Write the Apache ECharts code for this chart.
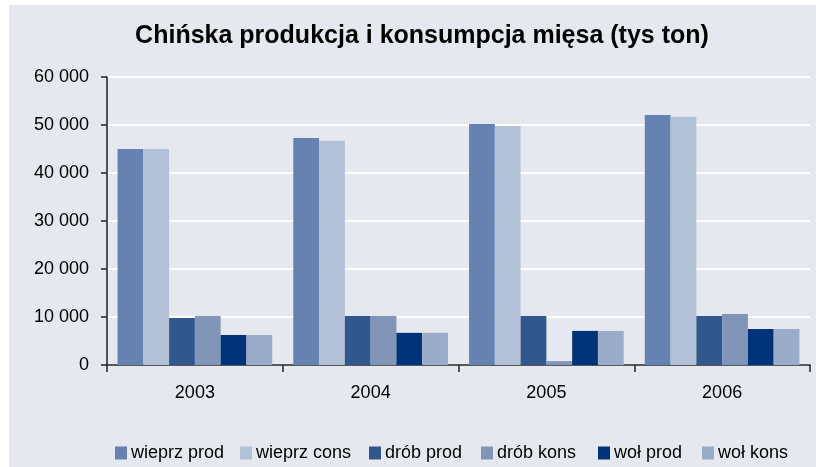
<!DOCTYPE html>
<html><head><meta charset="utf-8">
<script src="https://cdn.jsdelivr.net/npm/echarts@6/dist/echarts.min.js"></script>
<style>html,body{margin:0;padding:0;background:#fff}#c{width:816px;height:467px}</style>
</head><body><div id="c"></div>
<script>
const titleText = 'Chińska produkcja i konsumpcja mięsa (tys ton)';
const categories = ['2003', '2004', '2005', '2006'];
const seriesNames = ['wieprz prod', 'wieprz cons', 'drób prod', 'drób kons', 'woł prod', 'woł kons'];
const wieprzProd = [45000, 47300, 50200, 52100];
const wieprzCons = [45000, 46700, 49800, 51700];
const drobProd = [9800, 10200, 10200, 10200];
const drobKons = [10200, 10200, 800, 10600];
const wolProd = [6250, 6700, 7100, 7500];
const wolKons = [6250, 6700, 7100, 7500];
const yTicks = [0, 10000, 20000, 30000, 40000, 50000, 60000];

const colors = ['#6682B0', '#B3C1D7', '#32578E', '#8095B8', '#003377', '#9AACC8'];
const allData = [wieprzProd, wieprzCons, drobProd, drobKons, wolProd, wolKons];
const legendLeft = [115, 240, 369, 481, 598, 702];
const font = '"Liberation Sans", Arial, sans-serif';

const chart = echarts.init(document.getElementById('c'), null, {renderer: 'canvas'});
chart.setOption({
  animation: false,
  color: colors,
  graphic: [{type: 'rect', z: -10, silent: true, shape: {x: 9, y: 5, width: 816, height: 470}, style: {fill: '#E5E8EE'}}],
  title: {
    text: titleText, left: 417, top: 19, textAlign: 'center',
    textStyle: {fontFamily: font, fontWeight: 'bold', fontSize: 25, color: '#000'}
  },
  legend: seriesNames.map((n, i) => ({
    left: legendLeft[i] - 5, top: 439, itemWidth: 12, itemHeight: 13, itemGap: 0,
    icon: 'rect', selectedMode: false,
    textStyle: {fontFamily: font, fontSize: 18, color: '#000', padding: [0, 0, 0, -1]},
    data: [n]
  })),
  grid: {left: 107, right: 6, top: 77, bottom: 102, containLabel: false},
  xAxis: {
    type: 'category', data: categories,
    axisLine: {lineStyle: {color: '#222', width: 1.5}},
    axisTick: {show: true, length: 7, lineStyle: {color: '#222', width: 1.5}},
    axisLabel: {fontFamily: font, fontSize: 18, color: '#000', margin: 19}
  },
  yAxis: {
    type: 'value', min: yTicks[0], max: yTicks[yTicks.length - 1], interval: 10000,
    axisLine: {show: true, lineStyle: {color: '#222', width: 1.5}},
    axisTick: {show: true, length: 6, lineStyle: {color: '#222', width: 1.5}},
    splitLine: {lineStyle: {color: '#FFFFFF', width: 2}},
    axisLabel: {
      fontFamily: font, fontSize: 18, color: '#000', margin: 18,
      formatter: v => String(v).replace(/\B(?=(\d{3})+(?!\d))/g, ' ')
    }
  },
  series: seriesNames.map((n, i) => ({
    name: n, type: 'bar', data: allData[i],
    barGap: '0%', barCategoryGap: '12%',
    itemStyle: {color: colors[i]}
  }))
});
</script></body></html>
